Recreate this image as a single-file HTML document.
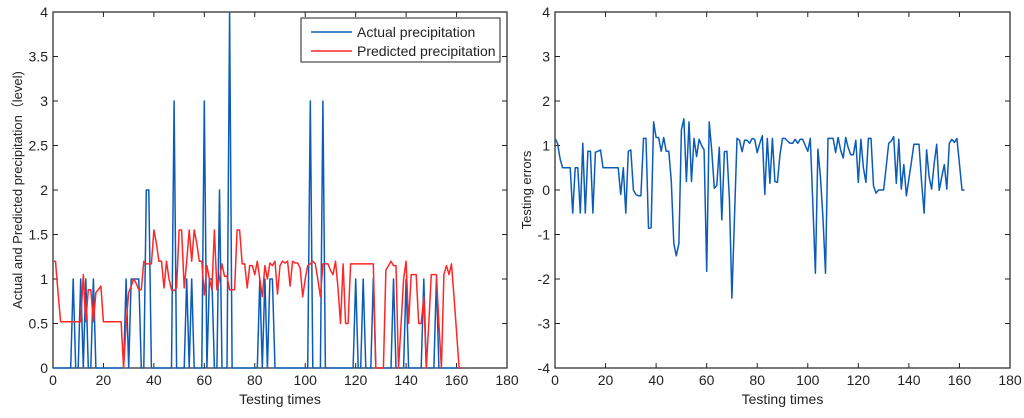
<!DOCTYPE html>
<html><head><meta charset="utf-8"><style>
body{margin:0;background:#fff;}
svg text{font-family:"Liberation Sans",Arial,sans-serif;fill:#222;}
</style></head><body>
<svg id="chart" width="1024" height="413" viewBox="0 0 1024 413" xmlns="http://www.w3.org/2000/svg"></svg>
<script>
const xTicks=[0,20,40,60,80,100,120,140,160,180];
const leftYTicks=[0,0.5,1,1.5,2,2.5,3,3.5,4];
const rightYTicks=[-4,-3,-2,-1,0,1,2,3,4];
const actualSpikes=[[8,1],[11,1],[13,1],[16,1],[29,1],[31,1],[32,1],[33,1],[34,1],[37,2],[38,2],[48,3],[53,1],[55,1],[60,3],[62,1],[63,1],[66,2],[70,4],[82,1],[84,1],[86,1],[87,1],[102,3],[107,3],[120,1],[123,1],[127,1],[135,1],[140,1],[147,1],[152,1]];
const predicted=[1.2,1.2,0.85,0.52,0.52,0.52,0.52,0.52,0.52,0.52,
0.52,0.52,1.05,0.52,0.88,0.88,0.52,0.85,0.88,0.92,
0.52,0.52,0.52,0.52,0.52,0.52,0.52,0.52,0,0.5,
0.85,0.92,1.0,0.95,0.88,0.88,1.2,1.17,1.17,1.17,
1.55,1.4,1.2,1.2,0.9,1.2,1.0,0.88,0.87,0.9,
1.55,1.55,0.9,1.2,1.55,1.2,1.55,1.4,1.2,1.2,
0.82,1.15,1.0,0.88,1.55,0.88,1.0,1.17,1.03,1.03,
0.88,0.88,0.88,1.55,1.55,1.17,1.17,0.9,1.15,1.15,
1.05,1.2,1.0,0.8,1.15,1.0,1.18,1.15,1.2,0.83,
1.15,1.2,1.18,1.2,0.92,1.2,1.18,1.18,1.12,0.8,
1.0,1.15,1.17,1.2,1.17,1.0,0.8,1.17,1.17,1.17,
1.1,1.05,1.2,0.9,0.5,1.17,0.5,0.5,1.17,1.17,
1.17,1.17,1.17,1.17,1.17,1.17,1.17,1.17,0,0,
0,0,1.1,1.15,1.2,1.15,1.15,0,0.5,1.0,
1.2,0.5,1.05,1.05,1.05,0.5,0.5,0.8,0,0.5,
1.05,1.05,1.05,0.5,0,1.05,1.15,1.05,1.17,0.8,
0.4,0,0];
const errors=[1.16,1.05,0.7,0.5,0.5,0.5,0.5,-0.52,0.5,0.5,
-0.52,1.05,-0.52,0.87,0.87,-0.52,0.85,0.87,0.9,0.5,
0.5,0.5,0.5,0.5,0.5,0.5,-0.1,0.5,-0.52,0.87,
0.9,0,-0.1,-0.13,-0.13,1.16,1.16,-0.86,-0.85,1.53,
1.18,1.18,0.87,1.18,0.87,0.87,0.2,-1.2,-1.48,-1.2,
1.35,1.6,0.19,1.53,0.19,1.16,0.75,1.14,1.0,0.9,
-1.83,1.53,0.9,0.04,0.1,0.96,-0.67,0.86,0.87,-0.2,
-2.43,-0.6,1.16,1.12,0.86,1.12,1.12,1.05,1.16,1.14,
0.84,1.05,1.22,-0.1,1.16,0.15,1.16,0.19,0.17,0.8,
1.16,1.16,1.1,1.05,1.05,1.14,1.05,1.14,1.14,1.0,
0.87,1.16,-0.3,-1.87,0.92,0.3,-0.6,-1.87,1.16,1.16,
1.16,0.84,1.18,0.9,0.72,1.18,0.95,0.79,0.79,1.12,
0.17,1.14,0.5,0.17,1.16,1.16,0.1,-0.07,0,0,
0,0.5,1.05,1.1,1.2,0.15,1.14,0.02,0.57,-0.13,
0.25,0.63,1.03,1.03,1.03,0.2,-0.52,0.9,0.3,0.02,
0.6,1.03,-0.01,0.3,0.57,0.02,1.05,1.14,1.07,1.16,
0.6,0,0];
const actual=predicted.map(()=>0);
actualSpikes.forEach(([t,v])=>{actual[t]=v;});

const NS="http://www.w3.org/2000/svg";
const svg=document.getElementById('chart');
function mk(tag,attrs,parent){const e=document.createElementNS(NS,tag);for(const k in attrs)e.setAttribute(k,attrs[k]);(parent||svg).appendChild(e);return e;}
const T=12,B=368;
function panel(x0,x1,ymin,ymax,yt,name){
  const g=mk('g',{});
  
  
  const sx=v=>x0+(v-0)/180*(x1-x0);
  const sy=v=>B-(v-ymin)/(ymax-ymin)*(B-T);
  const r=mk('rect',{x:x0,y:T,width:x1-x0,height:B-T,fill:'none',stroke:'#222','stroke-width':1.2},g);
  
  
  xTicks.forEach(v=>{const x=sx(v);
    mk('line',{x1:x,x2:x,y1:B,y2:B-5,stroke:'#222'},g);mk('line',{x1:x,x2:x,y1:T,y2:T+5,stroke:'#222'},g);
    const t=mk('text',{x:x,y:B+17,'font-size':14,'text-anchor':'middle'},g);t.textContent=v;
    
    });
  yt.forEach(v=>{const y=sy(v);
    mk('line',{x1:x0,x2:x0+5,y1:y,y2:y,stroke:'#222'},g);mk('line',{x1:x1,x2:x1-5,y1:y,y2:y,stroke:'#222'},g);
    const t=mk('text',{x:x0-5,y:y+5,'font-size':14,'text-anchor':'end'},g);t.textContent=v;
    
    });
  const xl=mk('text',{x:(x0+x1)/2,y:404,'font-size':14,'text-anchor':'middle'},g);xl.textContent='Testing times';
  
  
  return {g,sx,sy};
}
function line(p,vals,color,name){
  const d=vals.map((v,i)=>(i?'L':'M')+p.sx(i).toFixed(1)+','+p.sy(v).toFixed(1)).join('');
  const e=mk('path',{d:d,fill:'none',stroke:color,'stroke-width':1.5,'stroke-linejoin':'round'},p.g);
  
  
}
const L=panel(53,507,0,4,leftYTicks,'left-chart');
line(L,actual,'#0b5cb8','actual-precipitation-line');
line(L,predicted,'#ff2626','predicted-precipitation-line');
const yl=mk('text',{transform:'translate(22,190) rotate(-90)','font-size':13,'text-anchor':'middle'});
yl.textContent='Actual and Predicted precipitation（level)';


const lg=mk('g',{});


mk('rect',{x:301,y:18,width:199,height:44,fill:'#fff',stroke:'#222','stroke-width':1},lg);
mk('line',{x1:311,x2:352,y1:32,y2:32,stroke:'#0b5cb8','stroke-width':1.5},lg);
mk('line',{x1:311,x2:352,y1:51,y2:51,stroke:'#ff2626','stroke-width':1.5},lg);
const l1=mk('text',{x:357,y:37,'font-size':14},lg);l1.textContent='Actual precipitation';


const l2=mk('text',{x:357,y:56,'font-size':14},lg);l2.textContent='Predicted precipitation';


const R=panel(555,1010,-4,4,rightYTicks,'right-chart');
line(R,errors,'#0b5cb8','testing-error-line');
const yr=mk('text',{transform:'translate(531,190) rotate(-90)','font-size':13,'text-anchor':'middle'});
yr.textContent='Testing errors';


</script>
</body></html>
